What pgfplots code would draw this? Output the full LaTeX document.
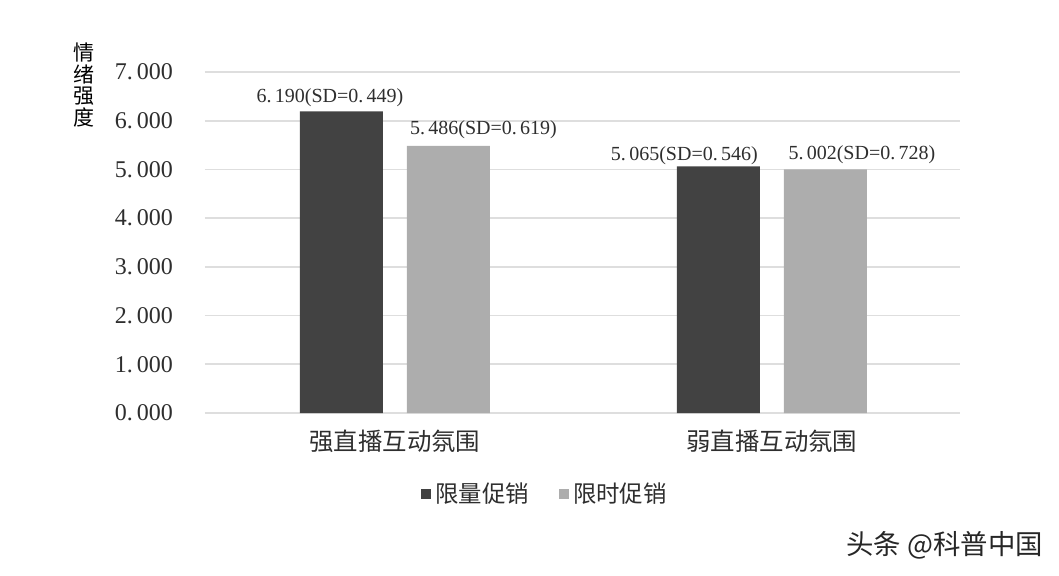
\documentclass[border=0pt]{standalone}
\usepackage{fontspec}
\setmainfont{Liberation Serif}
\newfontfamily\cjk{Noto Sans CJK SC}
\usepackage{pgfplots}
\usepackage{pgfplotstable}
\pgfplotsset{compat=1.18}
\definecolor{darkbar}{HTML}{424242}
\definecolor{lightbar}{HTML}{ADADAD}
\definecolor{gridc}{HTML}{DEDEDE}
\definecolor{txt}{HTML}{2E2E2E}

\pgfplotstableread[col sep=comma]{
x,y,label
0,6.190,{6.\thinspace 190(SD=0.\thinspace 449)}
1,5.065,{5.\thinspace 065(SD=0.\thinspace 546)}
}\limitqty
\pgfplotstableread[col sep=comma]{
x,y,label
0,5.486,{5.\thinspace 486(SD=0.\thinspace 619)}
1,5.002,{5.\thinspace 002(SD=0.\thinspace 728)}
}\limittime

\begin{document}
\begin{tikzpicture}
\useasboundingbox (-102.5pt,-81pt) rectangle (427pt,206.5pt);
\begin{axis}[
    at={(0pt,0pt)}, anchor=south west,
    scale only axis,
    width=377.5pt, height=170.5pt,
    xmin=-0.504, xmax=1.499,
    ymin=0, ymax=7,
    ybar=12pt, bar width=41.5pt,
    axis line style={draw=none},
    major tick length=0pt,
    ymajorgrids, grid style={gridc, line width=0.9pt},
    ytick={0,1,2,3,4,5,6,7},
    yticklabels={{0.\thinspace 000},{1.\thinspace 000},{2.\thinspace 000},{3.\thinspace 000},{4.\thinspace 000},{5.\thinspace 000},{6.\thinspace 000},{7.\thinspace 000}},
    yticklabel style={font=\fontsize{12}{14}\selectfont, text=txt, xshift=-12.5pt},
    xtick={0,1},
    xticklabels={强直播互动氛围,弱直播互动氛围},
    xticklabel style={font=\cjk\fontsize{12.2}{14}\selectfont, text=txt, yshift=-5pt},
    point meta=explicit symbolic,
    nodes near coords,
    legend columns=2,
    legend style={at={(rel axis cs:0.4517,-0.2375)}, anchor=center, draw=none,
        font=\cjk\fontsize{11.7}{13}\selectfont, text=txt,
        column sep=0pt, inner sep=0pt,
        /tikz/every even column/.append style={column sep=13pt}},
]
\addplot[fill=darkbar, draw=none,
    nodes near coords style={font=\fontsize{10}{12}\selectfont, text=txt, anchor=center,
        xshift={\coordindex==0 ? -5.75 : -17},
        yshift={\coordindex==0 ? 7 : 5.5}},
    legend image code/.code={\fill[darkbar] (0pt,-2.5pt) rectangle (5pt,2.5pt);}]
    table[x=x, y=y, meta=label] {\limitqty};
\addplot[fill=lightbar, draw=none,
    nodes near coords style={font=\fontsize{10}{12}\selectfont, text=txt, anchor=center,
        xshift={\coordindex==0 ? 17.5 : 18.25},
        yshift={\coordindex==0 ? 8 : 7.5}},
    legend image code/.code={\fill[lightbar] (0pt,-2.5pt) rectangle (5pt,2.5pt);}]
    table[x=x, y=y, meta=label] {\limittime};
\legend{限量促销,限时促销}
\end{axis}
\node[font=\cjk\fontsize{10.5}{10.75}\selectfont, align=center, text=black]
    at (-60.5pt,164pt) {情\\绪\\强\\度};
\node[anchor=east, font=\cjk\fontsize{13.7}{15}\selectfont, text=black!85]
    at (422.5pt,-66pt) {头条 @科普中国};
\end{tikzpicture}
\end{document}
